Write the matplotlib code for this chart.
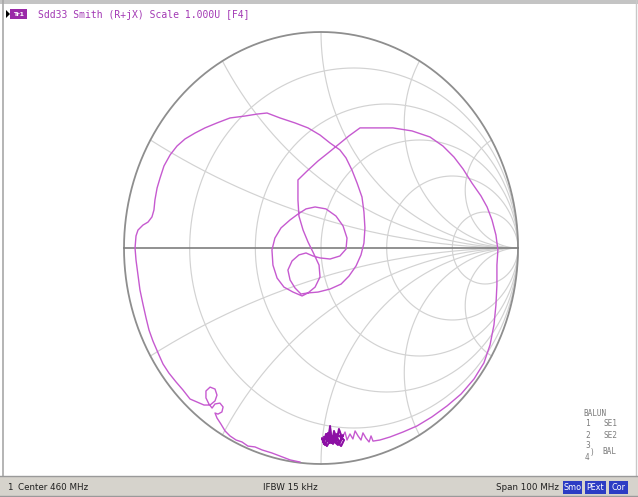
import matplotlib
matplotlib.use('Agg')
import numpy as np
import matplotlib.pyplot as plt
from matplotlib.patches import Rectangle, Polygon

# ---------------- data (reflection coefficient, real / imaginary) ----------------
trace_re = [-0.107, -0.157, -0.208, -0.249, -0.299, -0.335, -0.371, -0.401, -0.431, -0.462,
            -0.487, -0.508, -0.528, -0.538,
            -0.523, -0.503, -0.497, -0.513, -0.538, -0.553, -0.569, -0.584, -0.584, -0.563,
            -0.538, -0.528, -0.538, -0.563, -0.594, -0.629, -0.665,
            -0.701, -0.736, -0.772, -0.802, -0.827, -0.853, -0.873, -0.888, -0.904, -0.919,
            -0.929, -0.939, -0.944, -0.939, -0.929, -0.904, -0.878, -0.858, -0.848, -0.843,
            -0.832, -0.817, -0.797, -0.766, -0.731, -0.690, -0.640, -0.589, -0.528, -0.462,
            -0.386, -0.325, -0.274, -0.208, -0.132, -0.066, -0.005, 0.046, 0.096, 0.127,
            0.157, 0.183, 0.208, 0.218, 0.223, 0.218, 0.203, 0.178, 0.142, 0.102,
            0.046, -0.015, -0.066, -0.096,
            -0.142, -0.188, -0.223, -0.244, -0.249, -0.234, -0.203, -0.157, -0.117, -0.076,
            -0.030, 0.025, 0.076, 0.112, 0.132, 0.127, 0.096, 0.046, -0.005, -0.041,
            -0.076, -0.112, -0.147, -0.168, -0.157, -0.132, -0.102, -0.066, -0.030, -0.005,
            -0.010, -0.036, -0.066, -0.091, -0.112, -0.117, -0.117, -0.071, -0.015, 0.036,
            0.086, 0.142, 0.198, 0.279, 0.365, 0.462, 0.553, 0.619, 0.675, 0.721,
            0.766, 0.812, 0.843, 0.868, 0.888, 0.898, 0.893, 0.893, 0.888, 0.878,
            0.858, 0.827, 0.777, 0.711, 0.640, 0.563, 0.487, 0.416, 0.350, 0.299,
            0.264, 0.254, 0.244, 0.228, 0.213, 0.203, 0.188, 0.173, 0.162, 0.147,
            0.132, 0.122]
trace_im = [-0.991, -0.981, -0.963, -0.949, -0.935, -0.921, -0.917, -0.898, -0.889, -0.870,
            -0.847, -0.815, -0.787, -0.764,
            -0.769, -0.759, -0.736, -0.718, -0.722, -0.741, -0.722, -0.694, -0.662, -0.644,
            -0.653, -0.681, -0.708, -0.727, -0.727, -0.713, -0.699,
            -0.657, -0.620, -0.579, -0.537, -0.486, -0.431, -0.380, -0.324, -0.259, -0.194,
            -0.125, -0.056, 0.000, 0.056, 0.083, 0.106, 0.120, 0.144, 0.176, 0.222,
            0.278, 0.324, 0.380, 0.431, 0.472, 0.505, 0.532, 0.556, 0.579, 0.602,
            0.611, 0.620, 0.625, 0.602, 0.579, 0.556, 0.523, 0.486, 0.454, 0.417,
            0.361, 0.301, 0.236, 0.167, 0.093, 0.023, -0.032, -0.083, -0.130, -0.167,
            -0.190, -0.204, -0.208, -0.222,
            -0.204, -0.181, -0.139, -0.079, -0.009, 0.046, 0.093, 0.130, 0.157, 0.181,
            0.190, 0.181, 0.148, 0.102, 0.046, -0.005, -0.037, -0.051, -0.046, -0.037,
            -0.023, -0.032, -0.060, -0.102, -0.148, -0.185, -0.213, -0.208, -0.181, -0.134,
            -0.079, -0.028, 0.028, 0.083, 0.148, 0.222, 0.315, 0.356, 0.403, 0.440,
            0.477, 0.519, 0.556, 0.556, 0.556, 0.542, 0.514, 0.472, 0.421, 0.366,
            0.301, 0.241, 0.190, 0.130, 0.060, -0.009, -0.079, -0.171, -0.264, -0.356,
            -0.449, -0.532, -0.606, -0.676, -0.731, -0.782, -0.824, -0.852, -0.875, -0.889,
            -0.894, -0.870, -0.898, -0.880, -0.856, -0.889, -0.870, -0.847, -0.884, -0.861,
            -0.889, -0.852]

noise_re = [0.107, 0.091, 0.081, 0.066, 0.056, 0.046, 0.036, 0.025, 0.015, 0.005,
            0.020, 0.041, 0.061, 0.076, 0.096, 0.112, 0.086, 0.051, 0.030, 0.010,
            0.036, 0.071, 0.102, 0.117, 0.081, 0.046, 0.015]
noise_im = [-0.880, -0.838, -0.889, -0.847, -0.903, -0.824, -0.894, -0.861, -0.907, -0.880,
            -0.912, -0.875, -0.907, -0.870, -0.903, -0.866, -0.912, -0.884, -0.917, -0.894,
            -0.856, -0.889, -0.917, -0.889, -0.861, -0.903, -0.875]

r_circles = [0.2, 0.5, 1.0, 2.0, 5.0]
x_arcs = [0.268, 0.577, 1.0, 1.732, 3.732]

header_text = "Sdd33 Smith (R+jX) Scale 1.000U [F4]"
footer_left = "Center 460 MHz"
footer_mid = "IFBW 15 kHz"
footer_right = "Span 100 MHz"
status_boxes = ["Smo", "PExt", "Cor"]
legend_lines = ["BALUN", "SE1", "SE2", "BAL"]

# ---------------- figure ----------------
W, H = 638, 497
fig = plt.figure(figsize=(W / 100, H / 100), dpi=100)
fig.patch.set_facecolor('white')

bg = fig.add_axes([0, 0, 1, 1])
bg.set_xlim(0, W)
bg.set_ylim(H, 0)
bg.axis('off')

# frame
bg.add_patch(Rectangle((0, 0), W, 4, color='#c4c4c4', lw=0))
bg.plot([3, 3], [0, 476], color='#a8a8a8', lw=1.2)
bg.plot([636, 636], [0, 476], color='#c8c8c8', lw=1.0)
bg.add_patch(Rectangle((0, 476), W, 21, color='#d6d3cc', lw=0))
bg.plot([0, W], [476, 476], color='#9a9a9a', lw=1.0)
bg.plot([0, W], [496, 496], color='#9a9a9a', lw=1.0)

# header
bg.add_patch(Polygon([[6, 10], [6, 18], [10, 14]], closed=True, color='black', lw=0))
bg.add_patch(Rectangle((10, 9), 17, 10, color='#9a2aa8', lw=0))
bg.text(18.5, 14.2, "Tr1", color='white', fontsize=4.5, ha='center', va='center',
        family='DejaVu Sans', fontweight='bold')
bg.text(38, 14.5, header_text, color='#a238b4', fontsize=7, ha='left', va='center',
        family='DejaVu Sans Mono')

# footer
ftxt = dict(fontsize=6.3, va='center', color='#202020', family='DejaVu Sans')
bg.text(7, 487, "1", ha='left', **ftxt)
bg.text(18, 487, footer_left, ha='left', **ftxt)
bg.text(290, 487, footer_mid, ha='center', **ftxt)
bg.text(496, 487, footer_right, ha='left', **ftxt)
for (x0, x1), lab in zip([(563, 582), (585, 606), (609, 628)], status_boxes):
    bg.add_patch(Rectangle((x0, 481), x1 - x0, 13, color='#2c3cc4', lw=0))
    bg.text((x0 + x1) / 2, 487.5, lab, ha='center', va='center', color='white',
            fontsize=5.8, family='DejaVu Sans')

# legend (bottom right)
ltxt = dict(fontsize=5.6, color='#7c7c7c', family='DejaVu Sans Mono', va='center')
bg.text(583, 413, legend_lines[0], ha='left', **ltxt)
bg.text(585, 424, "1", ha='left', **ltxt)
bg.text(603, 424, legend_lines[1], ha='left', **ltxt)
bg.text(585, 436, "2", ha='left', **ltxt)
bg.text(603, 436, legend_lines[2], ha='left', **ltxt)
bg.text(585, 446, "3", ha='left', **ltxt)
bg.text(585, 458, "4", ha='left', **ltxt)
bg.text(590, 452, ")", ha='left', **ltxt)
bg.text(602, 452, legend_lines[3], ha='left', **ltxt)

# ---------------- Smith chart ----------------
ax = fig.add_axes([124 / W, 33 / H, 394 / W, 432 / H])
ax.set_xlim(-1, 1)
ax.set_ylim(-1, 1)
ax.axis('off')

grid_kw = dict(color='#d2d2d2', lw=0.85, clip_on=False, zorder=1)
t = np.linspace(0, 2 * np.pi, 721)
for r in r_circles:
    c = r / (1 + r)
    rad = 1 / (1 + r)
    ax.plot(c + rad * np.cos(t), rad * np.sin(t), **grid_kw)

rr = np.concatenate([[0.0], np.logspace(-3, 4, 600)])
for xv in x_arcs:
    for s in (1, -1):
        z = rr + 1j * s * xv
        g = (z - 1) / (z + 1)
        ax.plot(g.real, g.imag, **grid_kw)

ax.plot(np.cos(t), np.sin(t), color='#8e8e8e', lw=1.3, clip_on=False, zorder=2)
ax.plot([-1, 1], [0, 0], color='#7e7e7e', lw=1.2, clip_on=False, zorder=2)

all_re = list(trace_re) + list(noise_re)
all_im = list(trace_im) + list(noise_im)
ax.plot(all_re, all_im, color='#c65ad0', lw=1.0, clip_on=False, zorder=3,
        solid_joinstyle='round')
ax.plot(noise_re, noise_im, color='#8c10a4', lw=1.4, clip_on=False, zorder=4,
        solid_joinstyle='round')

fig.savefig('out.png', dpi=100, facecolor='white')
